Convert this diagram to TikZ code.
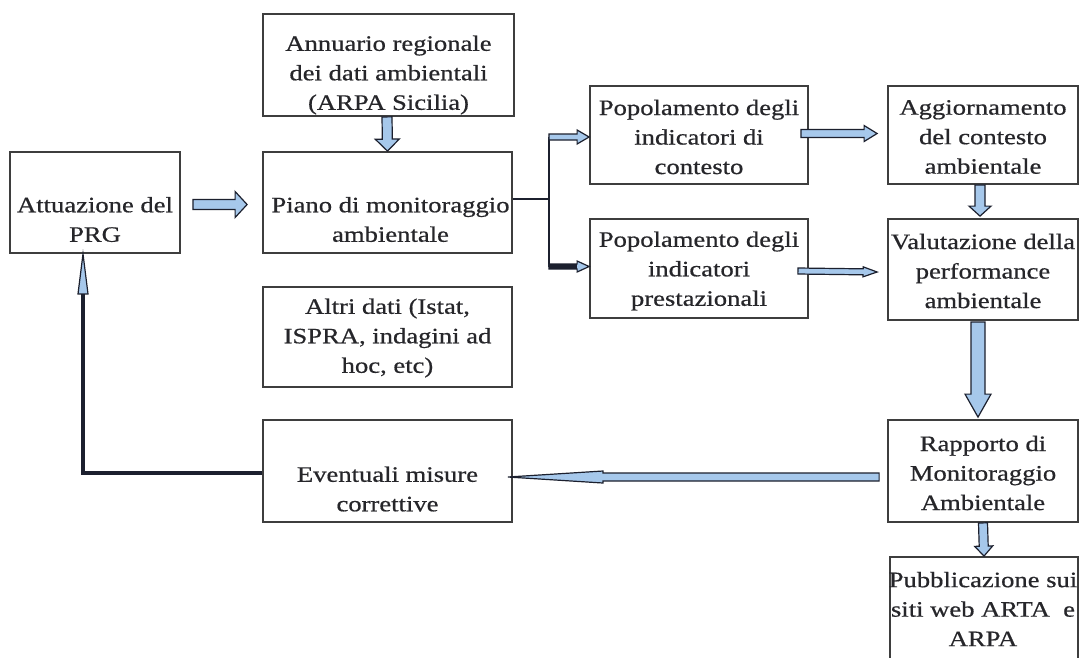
\documentclass[tikz,border=0pt]{standalone}
\usepackage{fontspec}
\setmainfont{Liberation Serif}[FakeStretch=1.21,FakeBold=0.6]
\usetikzlibrary{calc}
\definecolor{boxc}{RGB}{62,62,62}
\definecolor{txtc}{RGB}{38,38,42}
\definecolor{afill}{RGB}{166,200,235}
\definecolor{aline}{RGB}{28,32,46}
\tikzset{
  box/.style 2 args={draw=boxc, line width=1.8pt, inner sep=0pt, minimum width=#1, minimum height=#2},
  txt/.style={align=center, text=txtc, font=\fontsize{22}{29.5}\selectfont, inner sep=0pt},
  arrowbody/.style={fill=afill, draw=aline, line width=1.2pt, line join=miter},
  branch/.style={draw=aline, line width=1.5pt},
  backline/.style={draw=aline, line width=3.5pt}
}
% block arrow: [opts]{start}{end}{shaft half width}{head half width}{head length}
\newcommand\barrow[6][]{%
  \draw[arrowbody,#1] let \p1=#2, \p2=#3,
    \n1={veclen(\x2-\x1,\y2-\y1)}, \n2={(\x2-\x1)/\n1}, \n3={(\y2-\y1)/\n1} in
    ({\x1-\n3*#4},{\y1+\n2*#4}) --
    ({\x2-\n2*#6-\n3*#4},{\y2-\n3*#6+\n2*#4}) --
    ({\x2-\n2*#6-\n3*#5},{\y2-\n3*#6+\n2*#5}) --
    (\p2) --
    ({\x2-\n2*#6+\n3*#5},{\y2-\n3*#6-\n2*#5}) --
    ({\x2-\n2*#6+\n3*#4},{\y2-\n3*#6-\n2*#4}) --
    ({\x1+\n3*#4},{\y1-\n2*#4}) -- cycle;}
\begin{document}
\begin{tikzpicture}[x=1pt,y=-1pt]
\fill[white] (0,0) rectangle (1091,657);
\useasboundingbox (0,0) rectangle (1091,657);

% boxes
\node[box={170pt}{101pt}] (att) at (95,202.5) {};
\node[box={251pt}{102pt}] (ann) at (388.5,65) {};
\node[box={249pt}{101pt}] (piano) at (387.5,202.5) {};
\node[box={249pt}{100pt}] (altri) at (387.5,337) {};
\node[box={218pt}{98pt}] (popc) at (699,135) {};
\node[box={218pt}{99pt}] (popp) at (699,268.5) {};
\node[box={190pt}{98pt}] (agg) at (983,135) {};
\node[box={190pt}{101pt}] (val) at (983,269.5) {};
\node[box={190pt}{102pt}] (rap) at (983,471) {};
\node[box={249pt}{102pt}] (eve) at (387.5,471) {};
\node[box={188pt}{106pt}] (pub) at (984,610) {};

% texts
\node[txt] (atttxt) at ($(att.center)+(0,17)$) {Attuazione del\\PRG};
\node[txt] (anntxt) at ($(ann.center)+(0,10)$) {Annuario regionale\\dei dati ambientali\\(ARPA Sicilia)};
\node[txt] (pianotxt) at ($(piano.center)+(3,17)$) {Piano di monitoraggio\\ambientale};
\node[txt] (altritxt) at ($(altri.center)+(0,1)$) {Altri dati (Istat,\\ISPRA, indagini ad\\hoc, etc)};
\node[txt] (popctxt) at ($(popc.center)+(0,2)$) {Popolamento degli\\indicatori di\\contesto};
\node[txt] (popptxt) at ($(popp.center)+(0,2.5)$) {Popolamento degli\\indicatori\\prestazionali};
\node[txt] (aggtxt) at ($(agg.center)+(0,2)$) {Aggiornamento\\del contesto\\ambientale};
\node[txt] (valtxt) at ($(val.center)+(0,1.5)$) {Valutazione della\\performance\\ambientale};
\node[txt] (raptxt) at ($(rap.center)+(0,2)$) {Rapporto di\\Monitoraggio\\Ambientale};
\node[txt] (evetxt) at ($(eve.center)+(0,18)$) {Eventuali misure\\correttive};
\node[txt] (pubtxt) at ($(pub.center)+(-1,-1)$) {Pubblicazione sui\\siti web ARTA\ \ e\\ARPA};

% Attuazione -> Piano
\barrow{($(att.east)+(12,2)$)}{($(piano.west)+(-15,2)$)}{5}{13}{12}
% Annuario -> Piano
\barrow{($(ann.south)+(-1.5,0)$)}{($(piano.north)+(0,0)$)}{5}{12}{12}
% branch
\coordinate (br) at ($(piano.east)+(36,-3.5)$);
\coordinate (brt) at ($(br |- popc.west)+(0,2)$);
\coordinate (brb) at ($(br |- popp.west)+(0,-2)$);
\draw[branch] ($(piano.east)+(0,-3.5)$) -- (br);
\draw[branch] (brt) -- (brb);
\barrow{(brt)}{($(popc.west)+(0,2)$)}{3}{7}{12}
\barrow{(brb)}{($(popp.west)+(0,-2)$)}{2.5}{5.5}{12}
\draw[aline, line width=5pt] (brb) -- ($(popp.west)+(-12,-2)$);
% Popolamento contesto -> Aggiornamento
\barrow{($(popc.east)+(-8,-1.5)$)}{($(agg.west)+(-10,-1.5)$)}{4}{8}{13}
% Popolamento prestazionali -> Valutazione
\barrow{($(popp.east)+(-11,2.5)$)}{($(val.west)+(-10,2.5)$)}{3}{5}{14}
% Aggiornamento -> Valutazione
\barrow{($(agg.south)+(-3,0)$)}{($(val.north)+(-3,-2)$)}{5}{11}{10}
% Valutazione -> Rapporto
\barrow{($(val.south)+(-5,1)$)}{($(rap.north)+(-5,-2)$)}{7}{13}{23}
% Rapporto -> Eventuali
\barrow{($(rap.west)+(-8,6)$)}{($(eve.east)+(-5,6)$)}{4}{6}{95}
% Eventuali -> Attuazione
\coordinate (bk) at ($(att.south)+(-12,0)$);
\draw[backline] ($(eve.west)+(0,2)$) -| ($(bk)+(0,20)$);
\draw[arrowbody] (bk) -- ($(bk)+(5,40)$) -- ($(bk)+(-5,40)$) -- cycle;
% Rapporto -> Pubblicazione
\barrow{(rap.south)}{(pub.north)}{4.5}{9}{10}
\end{tikzpicture}
\end{document}
